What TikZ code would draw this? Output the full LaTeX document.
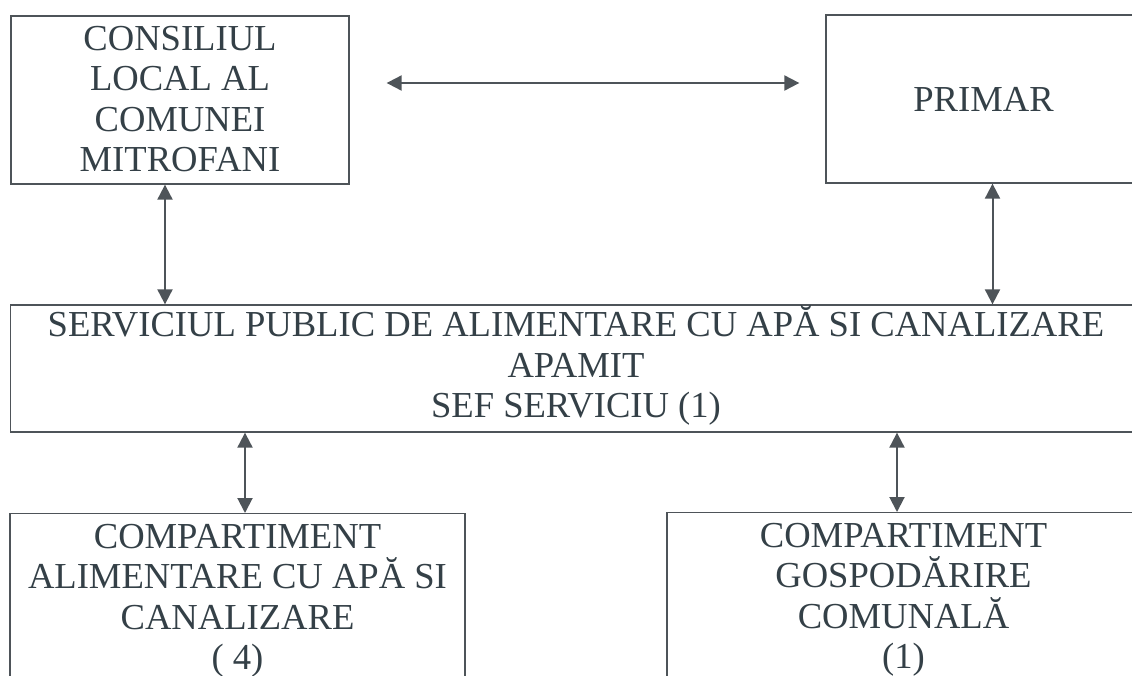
\documentclass[tikz,border=0pt]{standalone}
\usepackage{fontspec}
\setmainfont{Liberation Serif}
\usetikzlibrary{arrows.meta}
\definecolor{txtcol}{RGB}{52,64,71}
\definecolor{linecol}{RGB}{78,84,89}
\tikzset{
  orgbox/.style={draw=linecol, line width=1.3pt, rectangle, inner sep=0pt, align=center,
    text=txtcol, font=\fontsize{36.6}{40.5}\selectfont},
  arr/.style={draw=linecol, line width=2pt, {Triangle[length=15pt,width=15pt]}-{Triangle[length=15pt,width=15pt]}},
}
\begin{document}
\begin{tikzpicture}[x=1pt,y=-1pt]
\useasboundingbox (0,0) rectangle (1132,675);
\clip (0,0) rectangle (1132,675);
\node[orgbox, minimum width=338pt, minimum height=168pt] (cons) at (180,100)
  {CONSILIUL\\LOCAL AL\\COMUNEI\\MITROFANI\rule[-2.5pt]{0pt}{0pt}};
\node[orgbox, minimum width=315pt, minimum height=168pt] (primar) at (983.5,99) {PRIMAR};
\node[orgbox, minimum width=1131pt, minimum height=127pt] (serv) at (576,368.5)
  {SERVICIUL PUBLIC DE ALIMENTARE CU APĂ SI CANALIZARE\\APAMIT\\SEF SERVICIU (1)\rule[-13pt]{0pt}{0pt}};
\node[orgbox, minimum width=455pt, inner ysep=10.4pt, anchor=north] (compa) at (237.5,513)
  {COMPARTIMENT\\ALIMENTARE CU APĂ SI\\CANALIZARE\\( 4)};
\node[orgbox, minimum width=473pt, inner ysep=10.4pt, anchor=north] (compb) at (903.5,512)
  {COMPARTIMENT\\GOSPODĂRIRE\\COMUNALĂ\\(1)};
\draw[arr] ([xshift=37pt,yshift=17pt]cons.east) -- ([xshift=-26pt,yshift=16pt]primar.west);
\draw[arr] ([xshift=-15pt]cons.south) -- ([xshift=-15pt]cons.south |- serv.north);
\draw[arr] ([xshift=9pt]primar.south) -- ([xshift=9pt]primar.south |- serv.north);
\draw[arr] ([xshift=7.5pt]compa.north |- serv.south) -- ([xshift=7.5pt]compa.north);
\draw[arr] ([xshift=-6.5pt]compb.north |- serv.south) -- ([xshift=-6.5pt]compb.north);
\end{tikzpicture}
\end{document}
